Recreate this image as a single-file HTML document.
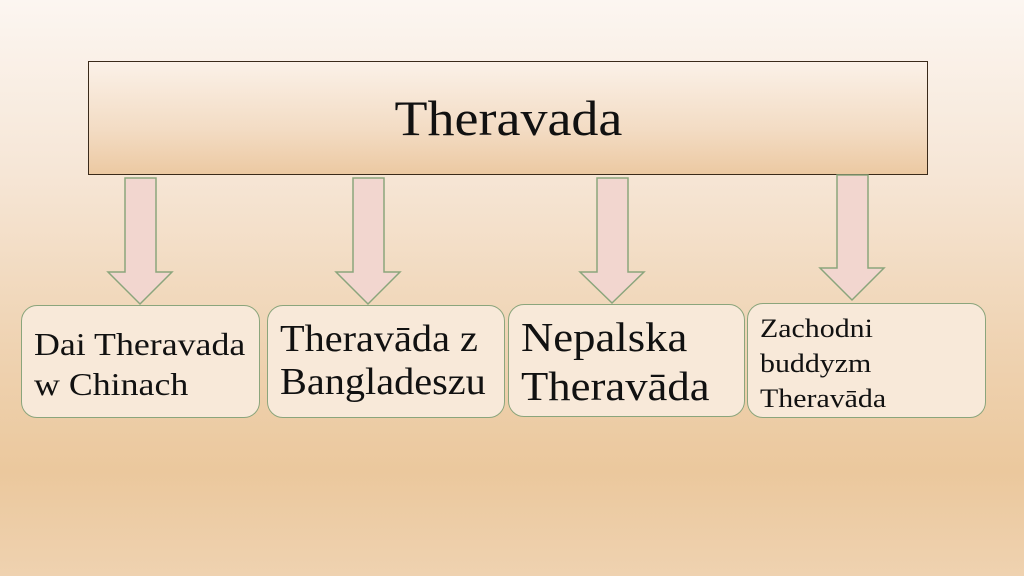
<!DOCTYPE html>
<html><head><style>
body{margin:0;width:1024px;height:576px;overflow:hidden;font-family:"Liberation Serif",serif;
background:linear-gradient(180deg,#fcf6f1 0%,#f6e6d6 30%,#efd3b2 60%,#ebc89d 82%,#efd2b0 100%);position:relative}
.main{position:absolute;left:88px;top:61px;width:838px;height:112px;border:1px solid #3a2a1a;
background:linear-gradient(180deg,#fbf1e8 0%,#f3dcc4 60%,#ecc9a2 100%);display:flex;align-items:center;justify-content:center;font-size:50px;color:#111}
.b{position:absolute;border:1.5px solid #8ba57c;border-radius:16px;background:#f8e9d9;color:#111;box-sizing:border-box;padding-left:12px;white-space:nowrap}
.b span,.main span{display:inline-block;transform-origin:left center}
svg{position:absolute;left:0;top:0}
</style></head><body>
<div class="main"><span style="transform:scaleX(1.08);transform-origin:center">Theravada</span></div>
<svg width="1024" height="576">
<g fill="#f2d6cf" stroke="#8ba57c" stroke-width="1.5">
<polygon points="125,178 156,178 156,272 172,272 140,304 108,272 125,272"/>
<polygon points="353,178 384,178 384,272 400,272 368,304 336,272 353,272"/>
<polygon points="597,178 628,178 628,272 644,272 612,303 580,272 597,272"/>
<polygon points="837,175 868,175 868,268 884,268 852,300 820,268 837,268"/>
</g></svg>
<div class="b" style="left:21px;top:305px;width:239px;height:113px;font-size:32px;line-height:40px;padding-top:18px"><span style="transform:scaleX(1.12)">Dai Theravada<br>w Chinach</span></div>
<div class="b" style="left:267px;top:305px;width:238px;height:113px;font-size:38px;line-height:43px;padding-top:12px"><span style="transform:scaleX(1.06)">Theravāda z<br>Bangladeszu</span></div>
<div class="b" style="left:508px;top:304px;width:237px;height:113px;font-size:41px;line-height:49px;padding-top:8px"><span style="transform:scaleX(1.09)">Nepalska<br>Theravāda</span></div>
<div class="b" style="left:747px;top:303px;width:239px;height:115px;font-size:26px;line-height:35px;padding-top:7px"><span style="transform:scaleX(1.15)">Zachodni<br>buddyzm<br>Theravāda</span></div>
</body></html>
